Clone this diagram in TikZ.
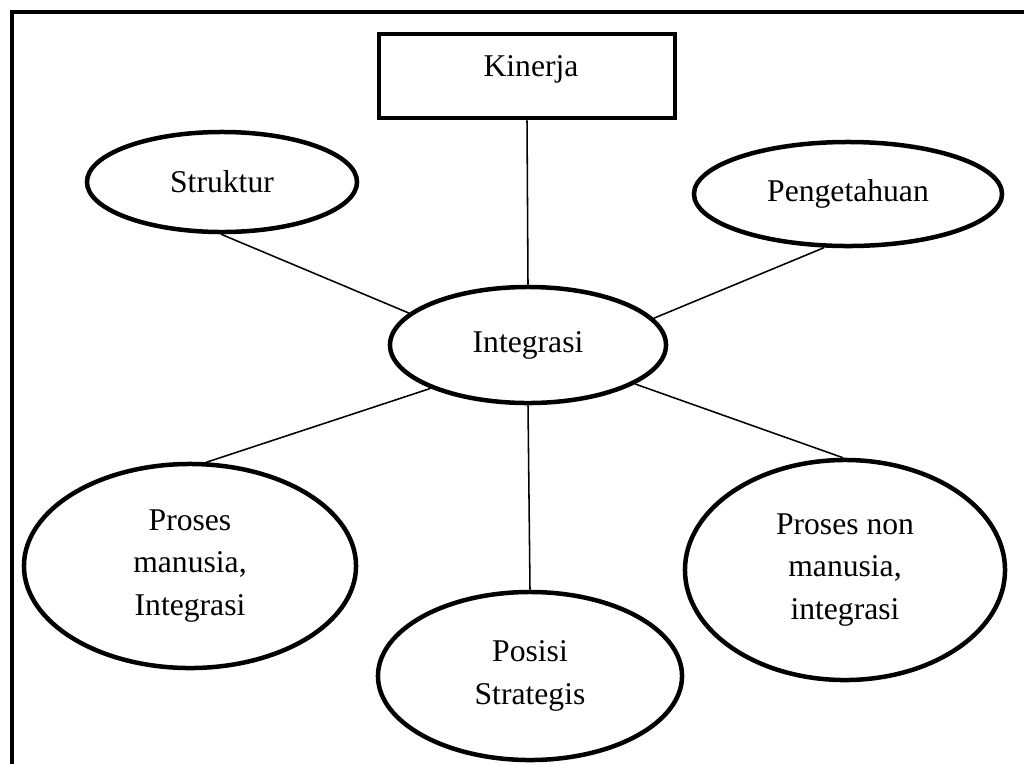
\documentclass[tikz,border=0pt]{standalone}
\usepackage{fontspec}
\setmainfont{Liberation Serif}
\usetikzlibrary{shapes.geometric}

\tikzset{
  oval/.style 2 args={ellipse, draw, line width=3.2pt, inner sep=0pt,
    minimum width=#1, minimum height=#2, align=center},
  link/.style={line width=1.1pt},
}

\begin{document}
\begin{tikzpicture}[x=0.025cm, y=-0.025cm, font=\fontsize{22.5}{30}\selectfont]
        \useasboundingbox (0,0) rectangle (1024,764);
        \draw[line width=3.2pt] (12,764) -- (12,12) -- (1024,12);
        % top box and centre
        \node[draw, line width=3.2pt, minimum width=7.4cm, minimum height=2.1cm] (kinerja) at (527,76) {};
        \node at (531,69) {Kinerja};
        \node[oval={6.75cm}{2.5cm}] (struktur) at (222,182) {Struktur};
        \node[oval={7.7cm}{2.6cm}] (pengetahuan) at (848,194) {Pengetahuan};
        \node[oval={6.9cm}{2.9cm}] (integrasi) at (528,345) {Integrasi};
        % lower ovals
        \node[oval={8.3cm}{5.1cm}] (manusia) at (190,566) {Proses\\manusia,\\Integrasi};
        \node[oval={7.6cm}{4.2cm}] (posisi) at (530,676) {Posisi\\Strategis};
        \node[oval={8.0cm}{5.5cm}] (nonmanusia) at (845,570) {Proses non\\manusia,\\integrasi};
        \draw[link] (kinerja.south) -- (integrasi.north);
        \draw[link] (struktur.-91) -- (integrasi.165);
        \draw[link] (pengetahuan.-114) -- (integrasi.12);
        \draw[link] (integrasi.-156) -- (manusia.81);
        \draw[link] (integrasi.south) -- (posisi.north);
        \draw[link] (integrasi.-20) -- (nonmanusia.91);
      \end{tikzpicture}
\end{document}
